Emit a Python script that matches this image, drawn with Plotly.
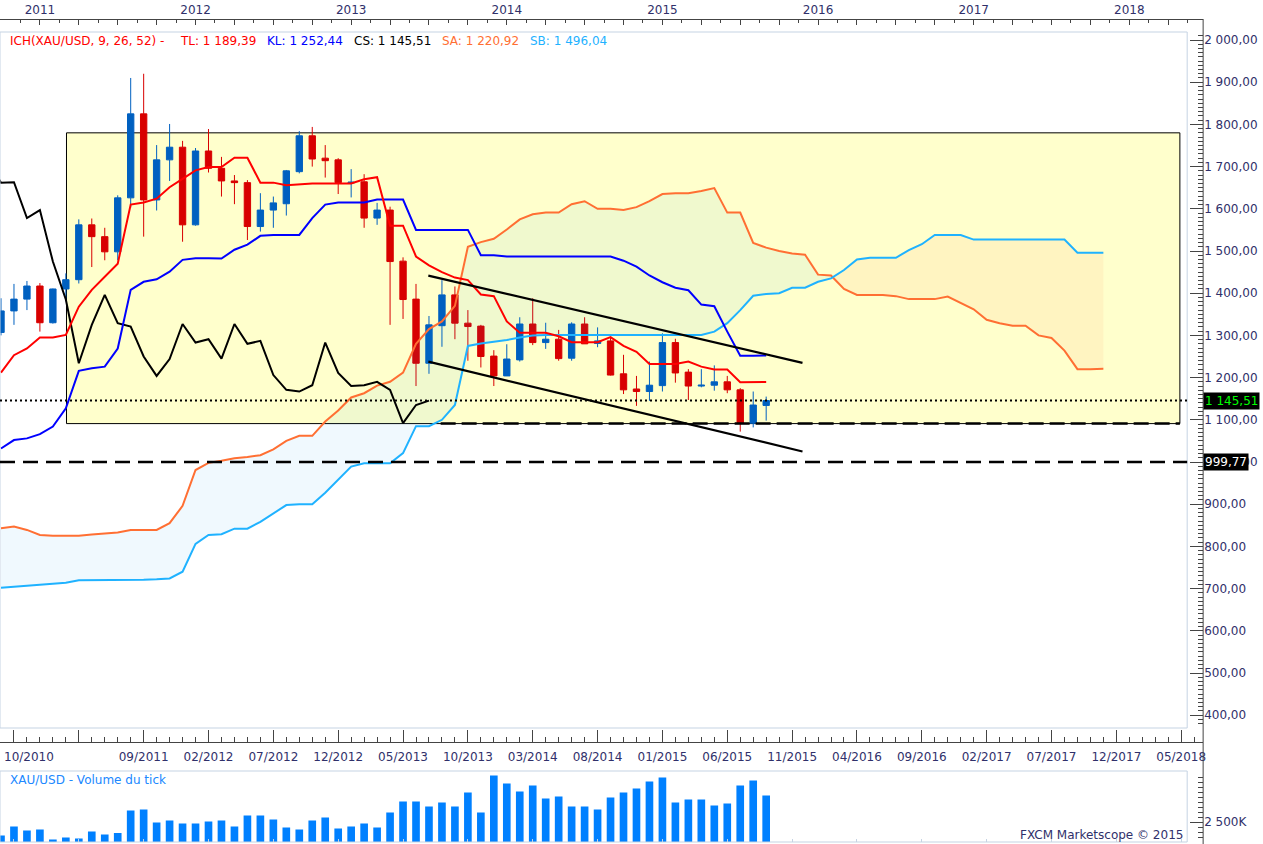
import pandas as pd
import plotly.graph_objects as go

# ---- monthly XAU/USD candles (Oct 2010 .. Sep 2015) ----
months = pd.period_range("2010-10", "2015-09", freq="M")
opens = [1307, 1358, 1386, 1417, 1330, 1410, 1432, 1562, 1534, 1498,
         1626, 1825, 1621, 1716, 1746, 1562, 1737, 1696, 1666, 1662,
         1558, 1597, 1612, 1688, 1773, 1720, 1716, 1661, 1664, 1578,
         1597, 1476, 1386, 1234, 1323, 1396, 1329, 1322, 1251, 1204,
         1242, 1327, 1283, 1291, 1246, 1327, 1281, 1287, 1209, 1173,
         1167, 1181, 1283, 1213, 1180, 1182, 1190, 1171, 1092, 1134]
highs = [1388, 1422, 1429, 1424, 1411, 1447, 1575, 1577, 1555, 1632,
         1910, 1920, 1751, 1801, 1761, 1744, 1789, 1723, 1680, 1668,
         1637, 1629, 1692, 1784, 1794, 1751, 1720, 1694, 1682, 1614,
         1605, 1485, 1422, 1346, 1431, 1416, 1360, 1325, 1265, 1279,
         1343, 1388, 1330, 1313, 1331, 1343, 1319, 1295, 1254, 1204,
         1238, 1305, 1292, 1220, 1220, 1229, 1204, 1175, 1167, 1155]
lows = [1300, 1325, 1360, 1309, 1328, 1381, 1423, 1462, 1478, 1478,
        1603, 1534, 1596, 1666, 1522, 1560, 1686, 1629, 1611, 1526,
        1546, 1555, 1584, 1684, 1700, 1674, 1635, 1627, 1555, 1562,
        1325, 1339, 1180, 1209, 1273, 1291, 1240, 1224, 1180, 1204,
        1238, 1277, 1268, 1240, 1240, 1280, 1272, 1205, 1161, 1133,
        1145, 1167, 1188, 1147, 1177, 1169, 1163, 1072, 1082, 1098]
closes = [1358, 1386, 1417, 1330, 1410, 1432, 1562, 1534, 1498, 1626,
          1825, 1621, 1716, 1746, 1562, 1737, 1696, 1666, 1662, 1558,
          1597, 1614, 1690, 1773, 1718, 1714, 1662, 1663, 1578, 1597,
          1475, 1385, 1234, 1325, 1396, 1329, 1321, 1250, 1204, 1244,
          1327, 1283, 1291, 1245, 1327, 1280, 1287, 1206, 1171, 1167,
          1182, 1283, 1211, 1180, 1182, 1190, 1171, 1092, 1135, 1145.51]
tick_volume_k = [1830, 2280, 2080, 2130, 1630, 1730, 1680, 2030, 1880, 1950,
                 3080, 3130, 2480, 2580, 2430, 2430, 2530, 2580, 2280, 2830,
                 2830, 2630, 2230, 2130, 2580, 2730, 2180, 2280, 2430, 2230,
                 2980, 3530, 3530, 3280, 3480, 3280, 3980, 2980, 4830, 4430,
                 4030, 4330, 3680, 3780, 3280, 3280, 3130, 3730, 3980, 4180,
                 4530, 4730, 3480, 3630, 3630, 3330, 3430, 4330, 4580, 3830]

# ---- Ichimoku lines ----
tenkan = [1212, 1253, 1269, 1295, 1295, 1301, 1368, 1408, 1439, 1470,
          1610, 1615, 1624, 1651, 1671, 1691, 1699, 1699, 1721, 1721,
          1662, 1662, 1656, 1658, 1660, 1660, 1660, 1660, 1670, 1675,
          1560, 1560, 1487, 1466, 1450, 1437, 1431, 1397, 1393, 1333,
          1306, 1306, 1306, 1298, 1284, 1284, 1284, 1296, 1275, 1261,
          1232, 1232, 1232, 1238, 1226, 1219, 1219, 1189, 1189, 1189.39]
kijun = [1032, 1052, 1056, 1066, 1084, 1127, 1216, 1222, 1226, 1269,
         1408, 1427, 1433, 1451, 1479, 1483, 1483, 1482, 1503, 1515,
         1536, 1538, 1538, 1538, 1578, 1610, 1615, 1615, 1615, 1622,
         1622, 1622, 1550, 1550, 1550, 1550, 1550, 1490, 1490, 1487,
         1487, 1487, 1487, 1487, 1487, 1487, 1487, 1487, 1477, 1463,
         1442, 1426, 1413, 1407, 1373, 1369, 1309, 1252, 1252, 1252.44]

cloud_months = pd.period_range("2010-10", "2017-11", freq="M")
senkou_a = [843, 847, 839, 827, 825, 825, 825, 828, 831, 833,
            839, 839, 839, 855, 896, 981, 998, 1003, 1009, 1012,
            1016, 1030, 1050, 1062, 1062, 1096, 1122, 1153, 1163, 1181,
            1190, 1212, 1280, 1315, 1333, 1370, 1510, 1521, 1529, 1551,
            1575, 1587, 1591, 1591, 1611, 1618, 1600, 1600, 1597, 1604,
            1618, 1635, 1637, 1637, 1642, 1649, 1591, 1591, 1519, 1508,
            1500, 1494, 1491, 1444, 1442, 1410, 1396, 1396, 1396, 1393,
            1386, 1386, 1386, 1392, 1376, 1362, 1337, 1329, 1323, 1323,
            1300, 1294, 1264, 1220, 1220, 1220.92]
senkou_b = [702, 705, 707, 709, 711, 714, 720, 720, 720, 720,
            720, 721, 722, 724, 740, 806, 827, 829, 842, 842,
            858, 878, 898, 900, 900, 927, 957, 989, 997, 997,
            997, 1021, 1085, 1085, 1100, 1135, 1275, 1281, 1285, 1289,
            1295, 1300, 1301, 1301, 1301, 1301, 1301, 1301, 1301, 1301,
            1301, 1301, 1301, 1301, 1301, 1309, 1329, 1360, 1394, 1398,
            1400, 1413, 1413, 1427, 1435, 1455, 1480, 1484, 1484, 1484,
            1502, 1516, 1538, 1538, 1538, 1527, 1527, 1527, 1527, 1527,
            1527, 1527, 1527, 1496, 1496, 1496.04]

# ---- drawn objects ----
last_close = 1145.51
level_999 = 999.77
box_x = [2.05, 87.9]          # in months since Jan 2011
box_y = [1091, 1780]
support_x = [30.9, 87.9]
support_y = 1091
channel_x = [29.95, 58.8]
channel_upper = [1441.5, 1235]
channel_lower = [1237.7, 1025]

legend_parts = ["ICH(XAU/USD, 9, 26, 52) -", "TL: 1 189,39", "KL: 1 252,44",
                "CS: 1 145,51", "SA: 1 220,92", "SB: 1 496,04"]
legend_px = [8, 178, 266, 353, 441, 529]

RED = "#ff0000"
BLUE = "#0000ff"
ORANGE = "#ff6f33"
SKY = "#1fb2ff"
UP = "#0060c0"
DOWN = "#d80000"
NAVY = "#30306a"
legend_colors = [RED, RED, BLUE, "#000000", ORANGE, SKY]

W, H = 1263, 844
XR = 1206 / W
PX = 13.0             # pixels per month
PPU = 0.422           # pixels per price unit


def mi(p):
    return (p.year - 2011) * 12 + p.month - 1


def py(px):
    return 1 - px / H


pos = [mi(p) for p in months]
cpos = [mi(p) for p in cloud_months]
x_lo, x_hi = -40 / PX, (1206 - 40) / PX
y_lo, y_hi = 2000 - (728 - 40) / PPU, 2000 + (40 - 32) / PPU


def fr(v):
    return f"{v:,.2f}".replace(",", " ").replace(".", ",")


fig = go.Figure()

# cloud fill, split where the two spans cross
pieces = []
cx, ca, cb = [cpos[0]], [senkou_a[0]], [senkou_b[0]]
for i in range(1, len(cpos)):
    d0 = senkou_a[i - 1] - senkou_b[i - 1]
    d1 = senkou_a[i] - senkou_b[i]
    if d0 * d1 < 0:
        t = d0 / (d0 - d1)
        xc = cpos[i - 1] + t * (cpos[i] - cpos[i - 1])
        yc = senkou_a[i - 1] + t * (senkou_a[i] - senkou_a[i - 1])
        cx.append(xc); ca.append(yc); cb.append(yc)
        pieces.append((d0 > 0, cx, ca, cb))
        cx, ca, cb = [xc], [yc], [yc]
    cx.append(cpos[i]); ca.append(senkou_a[i]); cb.append(senkou_b[i])
pieces.append((senkou_a[-1] > senkou_b[-1], cx, ca, cb))

for bull, xs, ua, lb in pieces:
    fig.add_trace(go.Scatter(
        x=xs + xs[::-1], y=ua + lb[::-1], fill="toself", mode="lines",
        line=dict(width=0),
        fillcolor="rgba(0,150,230,0.06)" if bull else "rgba(255,190,140,0.17)",
        hoverinfo="skip"))

fig.add_trace(go.Scatter(x=cpos, y=senkou_a, mode="lines", line=dict(color=ORANGE, width=2)))
fig.add_trace(go.Scatter(x=cpos, y=senkou_b, mode="lines", line=dict(color=SKY, width=2)))
fig.add_trace(go.Scatter(x=[k - 26 for k in pos], y=closes, mode="lines",
                         line=dict(color="#000000", width=2)))
fig.add_trace(go.Scatter(x=pos, y=kijun, mode="lines", line=dict(color=BLUE, width=2)))
fig.add_trace(go.Scatter(x=pos, y=tenkan, mode="lines", line=dict(color=RED, width=2)))

fig.add_trace(go.Candlestick(
    x=pos, open=opens, high=highs, low=lows, close=closes,
    increasing=dict(line=dict(color=UP, width=1), fillcolor=UP),
    decreasing=dict(line=dict(color=DOWN, width=1), fillcolor=DOWN),
    whiskerwidth=0))

# year markers on the top scale
years = list(range(2011, 2019))
fig.add_trace(go.Scatter(
    x=[(y - 2011) * 12 for y in years], y=[y_hi + (32 - 24) / PPU] * len(years),
    mode="markers", xaxis="x2", yaxis="y", cliponaxis=False,
    marker=dict(symbol="triangle-down", size=10, color="#222222")))
# keeps the bottom date scale alive
fig.add_trace(go.Scatter(x=[x_lo], y=[y_lo], mode="markers", xaxis="x3", yaxis="y",
                         marker=dict(opacity=0)))

# volume
fig.add_trace(go.Bar(x=pos, y=tick_volume_k, xaxis="x4", yaxis="y3",
                     marker=dict(color="#0080ff", line=dict(width=0)), width=0.59))

bottom_periods = pd.period_range("2010-11", "2018-05", freq="M")[::5]
bottom_text = [p.strftime("%m/%Y") for p in bottom_periods]
bottom_text[0] = ""
bottom_text[1] = ""
top_vals = list(range(-3, 88, 3))
top_text = [str(2011 + k // 12) if k % 12 == 0 else "" for k in top_vals]
price_ticks = list(range(400, 2001, 100))

axis_font = dict(family="DejaVu Sans", size=12, color=NAVY)
main_dom = [py(728), py(32)]
vol_dom = [py(842), py(771)]

fig.update_layout(
    width=W, height=H, margin=dict(l=0, r=0, t=0, b=0),
    paper_bgcolor="white", plot_bgcolor="white",
    showlegend=False, hovermode=False, boxgap=0.3,
    font=dict(family="DejaVu Sans", size=12, color=NAVY),
    xaxis=dict(domain=[0, XR], range=[x_lo, x_hi], anchor="y",
               showticklabels=False, showgrid=False, zeroline=False,
               ticks="", rangeslider=dict(visible=False), fixedrange=True),
    xaxis2=dict(overlaying="x", anchor="free", position=py(19), side="top",
                range=[x_lo, x_hi], showgrid=False, zeroline=False,
                showline=True, linecolor="#444444", linewidth=1,
                tickmode="array", tickvals=top_vals, ticktext=top_text,
                ticks="inside", ticklen=5, tickcolor="#444444",
                minor=dict(dtick=1.5, tick0=0, ticks="inside", ticklen=3,
                           tickcolor="#444444"),
                tickfont=axis_font, fixedrange=True),
    xaxis3=dict(overlaying="x", anchor="free", position=py(742), side="bottom",
                range=[x_lo, x_hi], showgrid=False, zeroline=False,
                showline=True, linecolor="#444444", linewidth=1,
                tickmode="array", tickvals=[mi(p) for p in bottom_periods],
                ticktext=bottom_text, ticks="inside", ticklen=12,
                tickcolor="#444444", ticklabelstandoff=4,
                minor=dict(dtick=1, tick0=0, ticks="inside", ticklen=5,
                           tickcolor="#444444"),
                tickfont=axis_font, fixedrange=True),
    xaxis4=dict(domain=[0, XR], anchor="y3", range=[x_lo, x_hi],
                showticklabels=False, showgrid=False, zeroline=False,
                showline=False, tickmode="array",
                tickvals=[mi(p) for p in bottom_periods],
                ticks="inside", ticklen=3, tickcolor="#c5d3e3", fixedrange=True),
    yaxis=dict(domain=main_dom, range=[y_lo, y_hi], anchor="x", side="right",
               showgrid=False, zeroline=False, showline=False,
               tickmode="array", tickvals=price_ticks,
               ticktext=[fr(v) for v in price_ticks],
               ticks="inside", ticklen=13, tickcolor="#444444",
               minor=dict(dtick=10, tick0=0, ticks="inside", ticklen=5,
                          tickcolor="#444444"),
               tickfont=axis_font, fixedrange=True),
    yaxis3=dict(domain=vol_dom, range=[1500, 5050], anchor="x4", side="right",
                showgrid=False, zeroline=False, showline=False,
                tickmode="array", tickvals=[2500], ticktext=["2 500K"],
                ticks="inside", ticklen=13, tickcolor="#444444",
                minor=dict(dtick=250, tick0=0, ticks="inside", ticklen=5,
                           tickcolor="#444444"),
                tickfont=axis_font, fixedrange=True),
)

shapes = [
    # shaded range box
    dict(type="rect", xref="x", yref="y", x0=box_x[0], x1=box_x[1],
         y0=box_y[0], y1=box_y[1], fillcolor="#ffffcc",
         line=dict(color="#000000", width=1), layer="below"),
    # panel frames
    dict(type="rect", xref="paper", yref="paper", x0=0, x1=1190 / W,
         y0=py(728), y1=py(32), line=dict(color="#c5d3e3", width=1)),
    dict(type="rect", xref="paper", yref="paper", x0=0, x1=1190 / W,
         y0=py(842), y1=py(771), line=dict(color="#c5d3e3", width=1)),
    dict(type="line", xref="paper", yref="paper", x0=XR, x1=XR,
         y0=0, y1=py(19), line=dict(color="#444444", width=1)),
    # price levels
    dict(type="line", xref="paper", yref="y", x0=0, x1=1190 / W,
         y0=last_close, y1=last_close,
         line=dict(color="#000000", width=2, dash="2px,3px")),
    dict(type="line", xref="paper", yref="y", x0=0, x1=1190 / W,
         y0=level_999, y1=level_999,
         line=dict(color="#000000", width=2.5, dash="15px,8px")),
    dict(type="line", xref="x", yref="y", x0=support_x[0], x1=support_x[1],
         y0=support_y, y1=support_y,
         line=dict(color="#000000", width=2.5, dash="15px,6px")),
    # falling channel
    dict(type="line", xref="x", yref="y", x0=channel_x[0], x1=channel_x[1],
         y0=channel_upper[0], y1=channel_upper[1],
         line=dict(color="#000000", width=2.2)),
    dict(type="line", xref="x", yref="y", x0=channel_x[0], x1=channel_x[1],
         y0=channel_lower[0], y1=channel_lower[1],
         line=dict(color="#000000", width=2.2)),
]
fig.update_layout(shapes=shapes)

ann = []
for txt, xp, col in zip(legend_parts, legend_px, legend_colors):
    ann.append(dict(text=txt, x=xp / W, y=py(41), xref="paper", yref="paper",
                    xanchor="left", yanchor="middle", showarrow=False,
                    font=dict(family="DejaVu Sans", size=12, color=col)))
ann += [
    dict(text=fr(last_close), x=XR, y=last_close, xref="paper", yref="y",
         xanchor="left", yanchor="middle", showarrow=False, bgcolor="#000000",
         borderpad=1, font=dict(family="DejaVu Sans", size=12, color="#00ff00")),
    dict(text=fr(level_999), x=XR, y=level_999, xref="paper", yref="y",
         xanchor="left", yanchor="middle", showarrow=False, bgcolor="#000000",
         borderpad=1, font=dict(family="DejaVu Sans", size=12, color="#ffffff")),
    dict(text="10/2010", x=2 / W, y=py(757), xref="paper", yref="paper",
         xanchor="left", yanchor="middle", showarrow=False, font=axis_font),
    dict(text="XAU/USD - Volume du tick", x=8 / W, y=py(780), xref="paper",
         yref="paper", xanchor="left", yanchor="middle", showarrow=False,
         font=dict(family="DejaVu Sans", size=12, color="#2088ff")),
    dict(text="FXCM Marketscope © 2015", x=1188 / W, y=py(835), xref="paper",
         yref="paper", xanchor="right", yanchor="middle", showarrow=False,
         font=axis_font),
]
fig.update_layout(annotations=ann)

# the page's default body margin would push the figure 8px in
fig.write_html("out.html", config={"displayModeBar": False},
               post_script="document.body.style.margin='0px';"
                           "document.body.style.overflow='hidden';")
